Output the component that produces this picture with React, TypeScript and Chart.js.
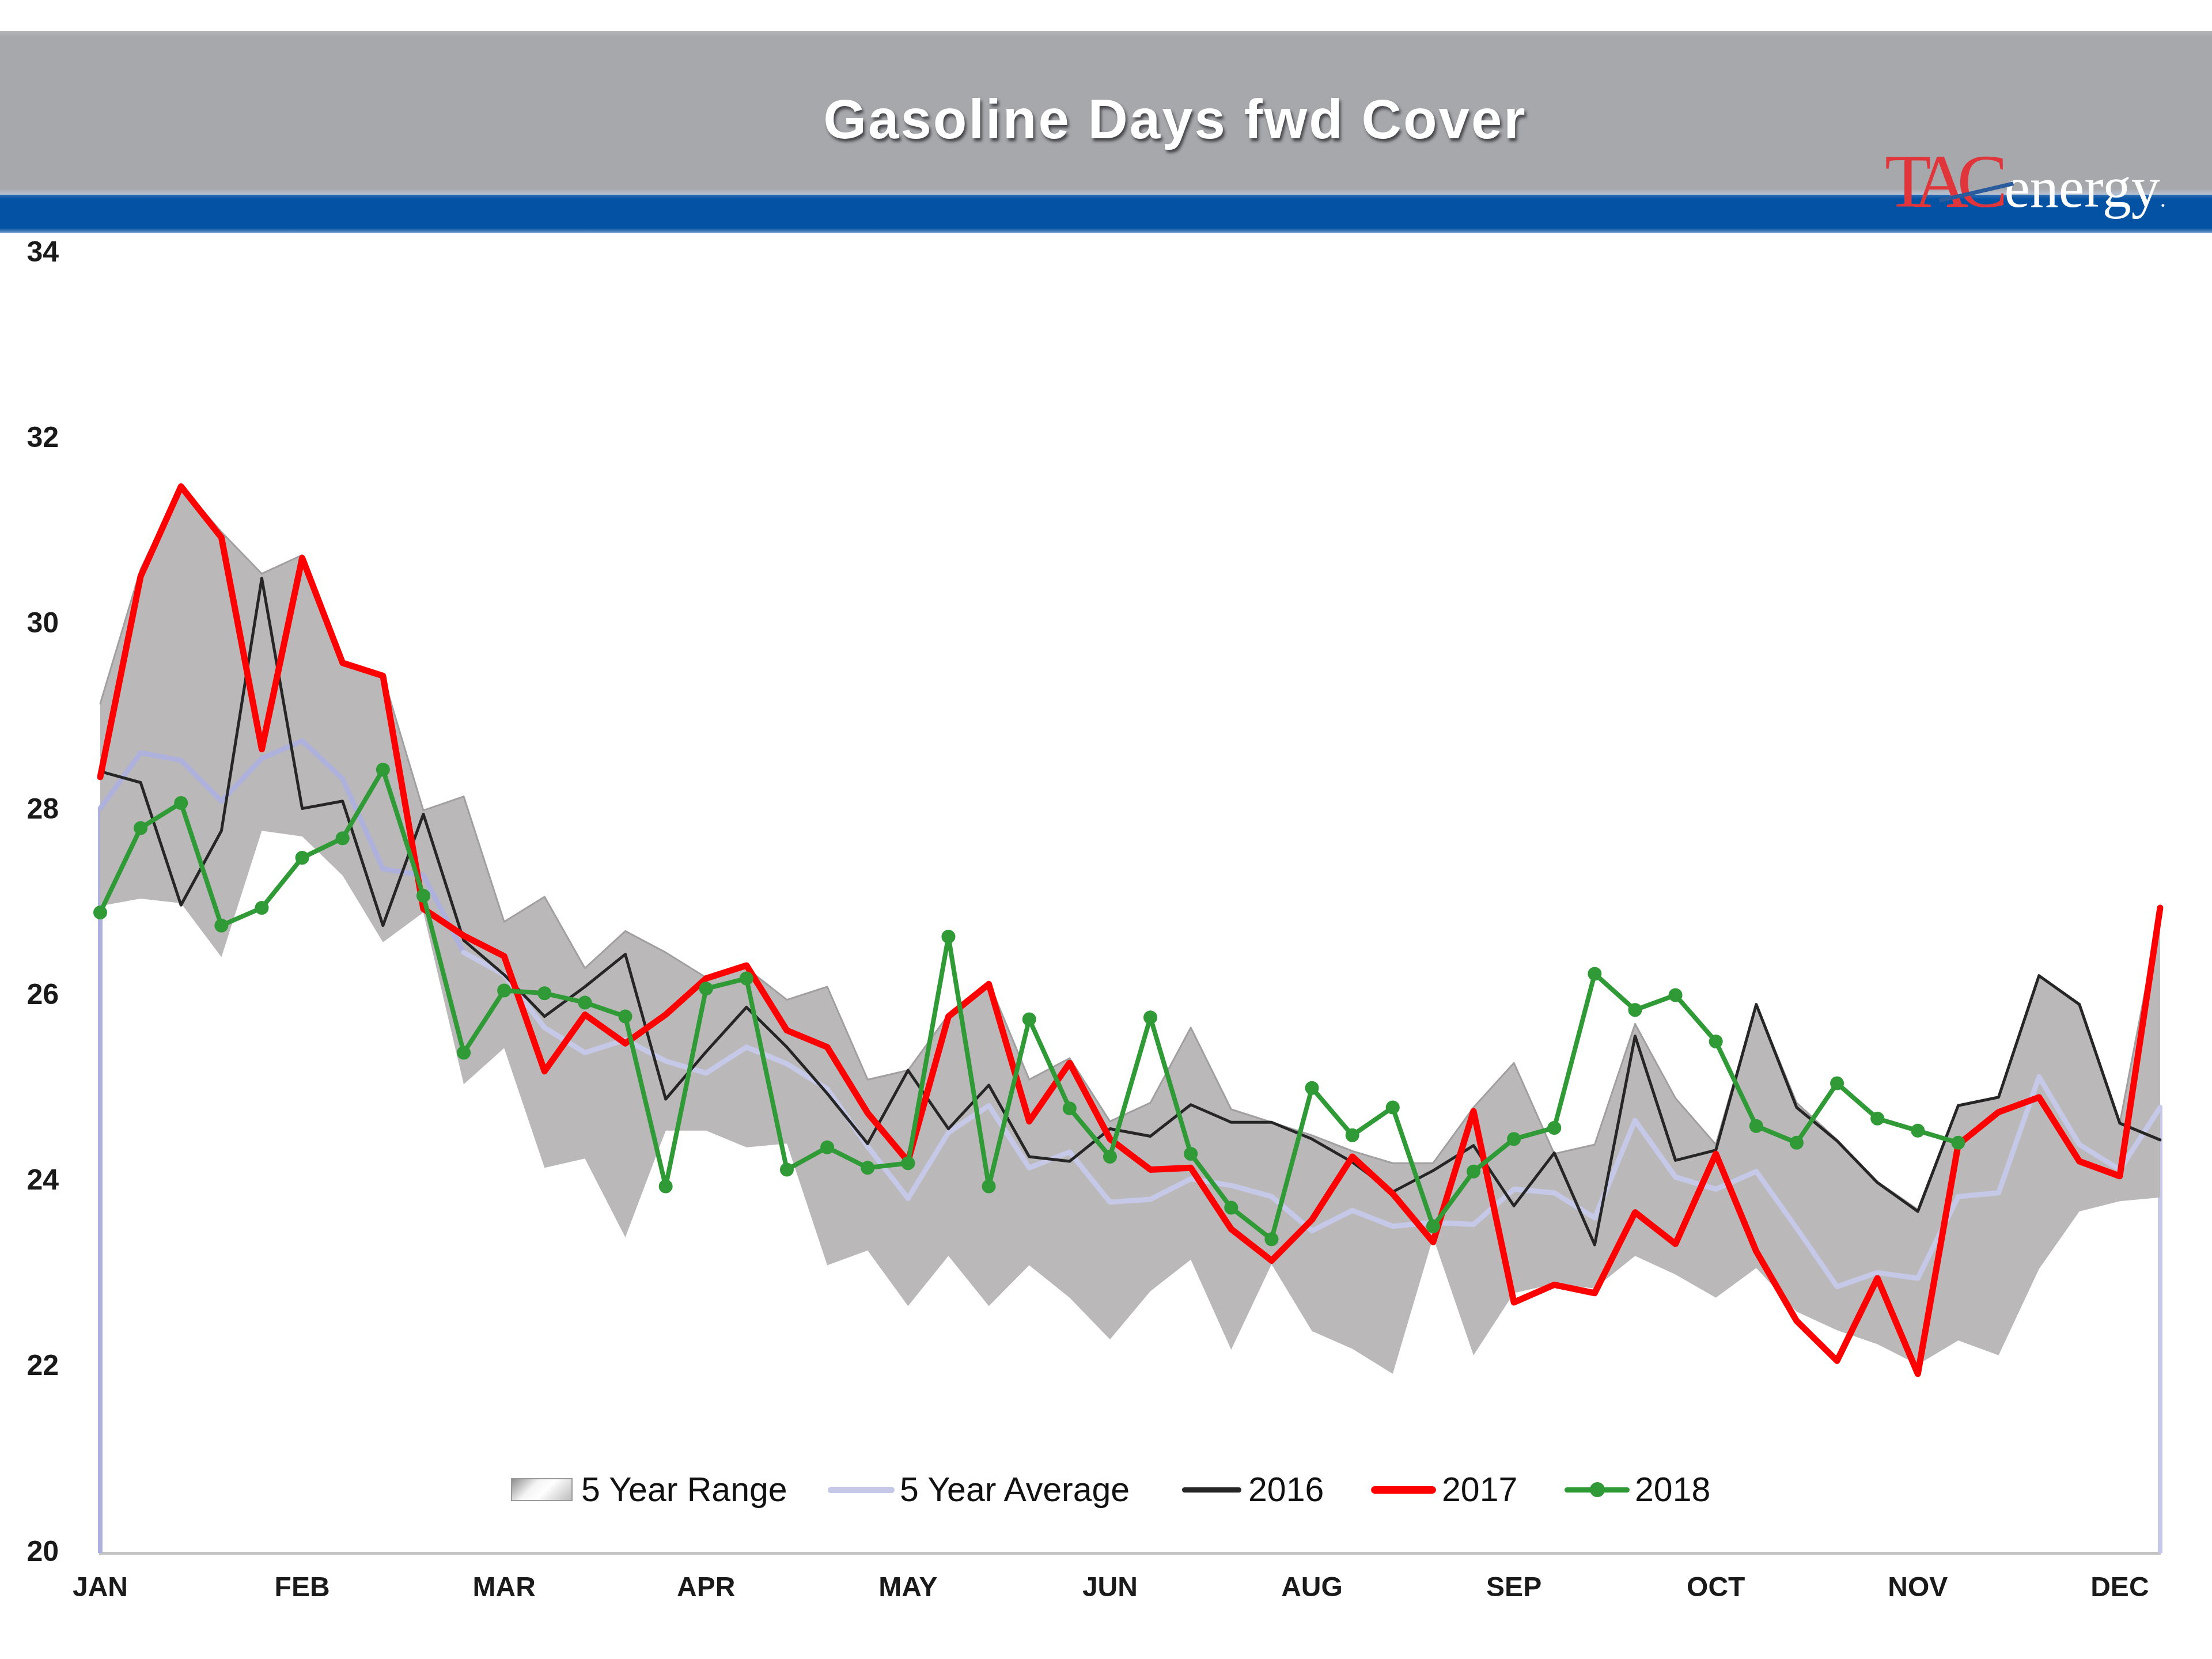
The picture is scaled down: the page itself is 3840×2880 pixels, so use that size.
import React, { useEffect, useRef } from 'react';
import { Chart, registerables } from 'chart.js';

Chart.register(...registerables);

// Week categories (52 weeks); month tick labels at every 5th week
const categories: string[] = [
  'JAN', '', '', '', '', 'FEB', '', '', '', '', 'MAR', '', '', '', '', 'APR', '', '', '', '', 'MAY', '', '', '', '', 'JUN',
  '', '', '', '', 'AUG', '', '', '', '', 'SEP', '', '', '', '', 'OCT', '', '', '', '', 'NOV', '', '', '', '', 'DEC', '',
];

const yTicks = [20, 22, 24, 26, 28, 30, 32, 34];

const rangeLow: number[] = [
  26.97, 27.05, 27.0, 26.42, 27.78, 27.72, 27.3, 26.58, 26.9, 25.05,
  25.44, 24.15, 24.25, 23.4, 24.55, 24.55, 24.37, 24.41, 23.1, 23.26,
  22.66, 23.2, 22.66, 23.1, 22.75, 22.3, 22.82, 23.16, 22.19, 23.11,
  22.39, 22.2, 21.93, 23.4, 22.13, 22.8, 22.9, 22.85, 23.2, 23.0,
  22.75, 23.07, 22.6, 22.4, 22.25, 22.03, 22.29, 22.13, 23.06, 23.68,
  23.79, 23.83,
];

const rangeHigh: number[] = [
  29.15, 30.6, 31.5, 31.0, 30.55, 30.75, 29.6, 29.45, 28.0, 28.15,
  26.8, 27.07, 26.3, 26.7, 26.47, 26.2, 26.3, 25.96, 26.1, 25.1,
  25.2, 25.8, 26.15, 25.1, 25.33, 24.65, 24.85, 25.66, 24.78, 24.64,
  24.5, 24.33, 24.2, 24.2, 24.8, 25.28, 24.3, 24.4, 25.7, 24.9,
  24.4, 25.91, 24.85, 24.45, 24.0, 23.7, 24.82, 24.91, 26.22, 25.91,
  24.63, 26.9,
];

const avg5: number[] = [
  28.02, 28.62, 28.54, 28.1, 28.56, 28.75, 28.34, 27.37, 27.3, 26.47,
  26.23, 25.66, 25.39, 25.53, 25.3, 25.17, 25.45, 25.27, 25.0, 24.38,
  23.82, 24.53, 24.82, 24.15, 24.32, 23.78, 23.81, 24.03, 23.96, 23.84,
  23.47, 23.69, 23.52, 23.56, 23.54, 23.92, 23.88, 23.61, 24.66, 24.05,
  23.92, 24.11, 23.5, 22.87, 23.02, 22.96, 23.84, 23.88, 25.13, 24.4,
  24.13, 24.8,
];

const y2016: number[] = [
  28.42, 28.3, 26.98, 27.78, 30.5, 28.02, 28.1, 26.76, 27.96, 26.6,
  26.23, 25.78, 26.1, 26.45, 24.89, 25.4, 25.88, 25.45, 24.95, 24.41,
  25.2, 24.57, 25.04, 24.27, 24.22, 24.57, 24.49, 24.83, 24.64, 24.64,
  24.46, 24.21, 23.89, 24.12, 24.39, 23.74, 24.31, 23.32, 25.57, 24.23,
  24.34, 25.91, 24.8, 24.44, 23.99, 23.68, 24.82, 24.91, 26.22, 25.91,
  24.63, 24.45,
];

const y2017: number[] = [
  28.36, 30.52, 31.49, 30.94, 28.66, 30.72, 29.59, 29.45, 26.94, 26.65,
  26.43, 25.19, 25.8, 25.49, 25.8, 26.19, 26.33, 25.63, 25.45, 24.74,
  24.22, 25.78, 26.13, 24.65, 25.28, 24.46, 24.13, 24.15, 23.49, 23.15,
  23.59, 24.27, 23.87, 23.35, 24.76, 22.7, 22.89, 22.8, 23.67, 23.33,
  24.3, 23.25, 22.5, 22.07, 22.96, 21.93, 24.4, 24.75, 24.91, 24.22,
  24.06, 26.95,
];

const y2018: number[] = [
  26.9, 27.81, 28.08, 26.76, 26.95, 27.49, 27.7, 28.44, 27.08, 25.39,
  26.06, 26.03, 25.93, 25.78, 23.95, 26.08, 26.19, 24.13, 24.37, 24.15,
  24.2, 26.64, 23.95, 25.75, 24.79, 24.27, 25.77, 24.3, 23.72, 23.38,
  25.01, 24.5, 24.8, 23.52, 24.11, 24.46, 24.58, 26.24, 25.85, 26.01,
  25.51, 24.6, 24.42, 25.06, 24.68, 24.55, 24.42,
];

const COLORS = {
  range: '#bab8b9',
  rangeEdge: '#a19fa0',
  avg: '#aeb1dc',
  avgLight: '#c6c8e8',
  y2016: '#262626',
  y2017: '#ff0000',
  y2018: '#2f9a36',
};

const endLines = {
  id: 'endLines',
  beforeDatasetsDraw(chart: any) {
    const { ctx, chartArea, scales } = chart;
    ctx.save();
    ctx.lineWidth = 8;
    [0, avg5.length - 1].forEach((i, k) => {
      const px = scales.x.getPixelForValue(i);
      ctx.strokeStyle = k === 0 ? COLORS.avg : COLORS.avgLight;
      ctx.beginPath();
      ctx.moveTo(px, scales.y.getPixelForValue(avg5[i]));
      ctx.lineTo(px, chartArea.bottom);
      ctx.stroke();
    });
    ctx.restore();
  },
};

const legendText: React.CSSProperties = {
  position: 'absolute',
  top: 2551,
  height: 70,
  lineHeight: '70px',
  fontFamily: '"Liberation Sans", Arial, sans-serif',
  fontSize: 59,
  color: '#111',
  whiteSpace: 'nowrap',
};

function LineSym({ left, width, h, color, marker }: { left: number; width: number; h: number; color: string; marker?: boolean }) {
  return (
    <>
      <div style={{ position: 'absolute', left, width, top: 2586 - h / 2, height: h, background: color, borderRadius: h / 2 }} />
      {marker && (
        <div style={{ position: 'absolute', left: left + width / 2 - 13, top: 2586 - 13, width: 26, height: 26, borderRadius: 13, background: color }} />
      )}
    </>
  );
}

export default function App() {
  const ref = useRef<HTMLCanvasElement>(null);

  useEffect(() => {
    const chart = new Chart(ref.current as HTMLCanvasElement, {
      type: 'line',
      data: {
        labels: categories,
        datasets: [
          { label: 'Range Low', data: rangeLow, borderColor: 'rgba(0,0,0,0)', borderWidth: 0, pointRadius: 0, fill: false, order: 6 },
          { label: '5 Year Range', data: rangeHigh, borderColor: COLORS.rangeEdge, borderWidth: 3, pointRadius: 0, fill: '-1', backgroundColor: COLORS.range, order: 5 },
          {
            label: '5 Year Average', data: avg5, borderColor: COLORS.avg, borderWidth: 9, pointRadius: 0, fill: false, order: 4,
            segment: { borderColor: (c: any) => (c.p0DataIndex < 9 ? COLORS.avg : COLORS.avgLight) },
          },
          { label: '2016', data: y2016, borderColor: COLORS.y2016, borderWidth: 5, pointRadius: 0, fill: false, order: 3 },
          { label: '2017', data: y2017, borderColor: COLORS.y2017, borderWidth: 11, pointRadius: 0, fill: false, order: 2 },
          { label: '2018', data: y2018, borderColor: COLORS.y2018, borderWidth: 8, pointRadius: 12, pointBackgroundColor: COLORS.y2018, pointBorderWidth: 0, fill: false, order: 1 },
        ] as any,
      },
      options: {
        responsive: false,
        animation: false,
        layout: { padding: { top: 440, right: 90, left: 0, bottom: 0 } },
        plugins: { legend: { display: false }, tooltip: { enabled: false }, title: { display: false } },
        elements: { line: { tension: 0, borderJoinStyle: 'round', borderCapStyle: 'round' } },
        scales: {
          x: {
            grid: { display: false, drawTicks: false },
            border: { display: true, color: '#c4c4c4', width: 5 },
            ticks: {
              autoSkip: false, maxRotation: 0, minRotation: 0, padding: 33, color: '#1a1a1a',
              font: { family: '"Liberation Sans", Arial, sans-serif', weight: 'bold', size: 48 },
            },
            afterFit(s: any) { s.height = 184; },
          },
          y: {
            min: yTicks[0],
            max: yTicks[yTicks.length - 1],
            grid: { display: false, drawTicks: false },
            border: { display: false },
            afterBuildTicks(s: any) { s.ticks = yTicks.map((v) => ({ value: v })); },
            ticks: {
              padding: 72, color: '#1a1a1a',
              font: { family: '"Liberation Sans", Arial, sans-serif', weight: 'bold', size: 50 },
            },
            afterFit(s: any) { s.width = 174; },
          },
        },
      } as any,
      plugins: [endLines],
    });
    return () => chart.destroy();
  }, []);

  return (
    <div style={{ position: 'fixed', left: 0, top: 0, width: 3840, height: 2880, background: '#fff', overflow: 'hidden' }}>
      <canvas ref={ref} width={3840} height={2880} style={{ position: 'absolute', left: 0, top: 0, width: 3840, height: 2880 }} />
      {/* header band */}
      <div style={{ position: 'absolute', left: 0, top: 54, width: 3840, height: 284, background: 'linear-gradient(#b4b5b8 0px, #a7a8ac 10px, #a7a8ac 274px, #b9c4d4 284px)' }} />
      <div style={{ position: 'absolute', left: 0, top: 338, width: 3840, height: 66, background: 'linear-gradient(#2d6bb0 0px, #0352a3 8px, #0352a3 58px, #6d97c9 66px)' }} />
      <div
        style={{
          position: 'absolute', left: 1040, top: 157, width: 2000, height: 100, lineHeight: '100px', textAlign: 'center',
          fontFamily: '"Liberation Sans", Arial, sans-serif', fontWeight: 'bold', fontSize: 96, letterSpacing: 3,
          color: '#ffffff', textShadow: '3px 5px 5px rgba(50,50,55,0.85)', whiteSpace: 'nowrap',
        }}
      >
        Gasoline Days fwd Cover
      </div>
      {/* logo */}
      <div style={{ position: 'absolute', left: 3272, top: 245, height: 140, lineHeight: '140px', whiteSpace: 'nowrap', fontFamily: '"Liberation Serif", "Times New Roman", serif' }}>
        <span style={{ fontSize: 132, color: '#e0353b', letterSpacing: -20 }}>TAC</span>
        <span style={{ fontSize: 100, color: '#ffffff', marginLeft: 14 }}>energy</span>
        <span style={{ fontSize: 40, color: '#ffffff' }}>.</span>
      </div>
      <div style={{ position: 'absolute', left: 3365, top: 330, width: 132, height: 7, background: '#2a5b9c', transform: 'rotate(-13deg)', transformOrigin: 'center' }} />
      {/* legend */}
      <div style={{ position: 'absolute', left: 887, top: 2566, width: 103, height: 36, border: '2px solid #9a9a9a', background: 'linear-gradient(135deg, #8e8e8e 0%, #f4f4f4 35%, #ffffff 55%, #bdbdbd 100%)' }} />
      <div style={{ ...legendText, left: 1009 }}>5 Year Range</div>
      <LineSym left={1437} width={116} h={11} color={COLORS.avgLight} />
      <div style={{ ...legendText, left: 1562 }}>5 Year Average</div>
      <LineSym left={2052} width={103} h={9} color={COLORS.y2016} />
      <div style={{ ...legendText, left: 2167 }}>2016</div>
      <LineSym left={2380} width={113} h={13} color={COLORS.y2017} />
      <div style={{ ...legendText, left: 2503 }}>2017</div>
      <LineSym left={2716} width={113} h={9} color={COLORS.y2018} marker />
      <div style={{ ...legendText, left: 2838 }}>2018</div>
    </div>
  );
}
